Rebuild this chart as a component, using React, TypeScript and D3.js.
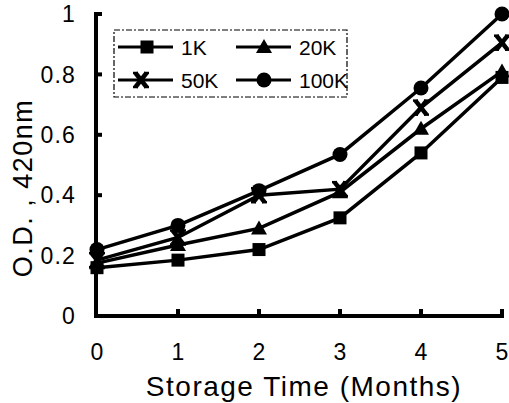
import React from "react";
import * as d3 from "d3";

const months = [0, 1, 2, 3, 4, 5];
const s1K = [0.16, 0.185, 0.22, 0.325, 0.54, 0.79];
const s20K = [0.175, 0.235, 0.29, 0.41, 0.62, 0.81];
const s50K = [0.185, 0.26, 0.4, 0.42, 0.69, 0.905];
const s100K = [0.22, 0.3, 0.415, 0.535, 0.755, 1.0];
const seriesNames = ["1K", "20K", "50K", "100K"];
const markers = ["square", "triangle", "x", "circle"];
const yTicks = [0, 0.2, 0.4, 0.6, 0.8, 1];
const yTickLabels = ["0", "0.2", "0.4", "0.6", "0.8", "1"];

const W = 509, H = 403;
const FONT = "'Liberation Sans', Arial, Helvetica, sans-serif";

function Marker({ type, x, y }: { type: string; x: number; y: number }) {
  if (type === "square") return <rect x={x - 6.5} y={y - 6.5} width={13} height={13} fill="#000" />;
  if (type === "circle") return <circle cx={x} cy={y} r={7.5} fill="#000" />;
  if (type === "triangle")
    return <path d={`M${x},${y - 8} L${x + 8},${y + 6} L${x - 8},${y + 6} Z`} fill="#000" />;
  return (
    <g stroke="#000">
      <line x1={x - 5.5} y1={y - 7} x2={x + 5.5} y2={y + 7} strokeWidth={4.5} />
      <line x1={x + 5.5} y1={y - 7} x2={x - 5.5} y2={y + 7} strokeWidth={4.5} />
      <line x1={x - 8} y1={y - 7} x2={x - 3} y2={y - 7} strokeWidth={2.5} />
      <line x1={x + 3} y1={y - 7} x2={x + 8} y2={y - 7} strokeWidth={2.5} />
      <line x1={x - 8} y1={y + 7} x2={x - 3} y2={y + 7} strokeWidth={2.5} />
      <line x1={x + 3} y1={y + 7} x2={x + 8} y2={y + 7} strokeWidth={2.5} />
    </g>
  );
}

export default function App() {
  const x = d3.scaleLinear().domain([0, 5]).range([97, 502]);
  const y = d3.scaleLinear().domain([0, 1]).range([316, 14]);
  const data = [s1K, s20K, s50K, s100K];
  const line = d3
    .line<number>()
    .x((_, i) => x(months[i]))
    .y((d) => y(d));

  const legend = [
    { lx: 118, ly: 47, name: seriesNames[0], m: markers[0], mx: 147 },
    { lx: 236, ly: 47, name: seriesNames[1], m: markers[1], mx: 264 },
    { lx: 118, ly: 80, name: seriesNames[2], m: markers[2], mx: 141 },
    { lx: 236, ly: 80, name: seriesNames[3], m: markers[3], mx: 264 },
  ];

  return (
    <svg width={W} height={H} style={{ position: "absolute", left: 0, top: 0, background: "#fff" }}>
      {/* axes */}
      <line x1={96} y1={12} x2={96} y2={318} stroke="#000" strokeWidth={4} />
      <line x1={94} y1={316} x2={504} y2={316} stroke="#000" strokeWidth={4} />
      {yTicks.map((t, i) => (
        <g key={"yt" + i}>
          <line x1={96} x2={102} y1={y(t)} y2={y(t)} stroke="#000" strokeWidth={4} />
          <text x={76} y={y(t)} dy="0.36em" textAnchor="end" fontFamily={FONT} fontSize={23} letterSpacing={1.2}>
            {yTickLabels[i]}
          </text>
        </g>
      ))}
      {months.map((m) => (
        <g key={"xt" + m}>
          {m > 0 && <line x1={x(m)} x2={x(m)} y1={316} y2={309} stroke="#000" strokeWidth={4} />}
          <text x={x(m)} y={352} dy="0.36em" textAnchor="middle" fontFamily={FONT} fontSize={23}>
            {m}
          </text>
        </g>
      ))}
      <text
        x={304}
        y={386}
        dy="0.36em"
        textAnchor="middle"
        fontFamily={FONT}
        fontSize={28}
        letterSpacing={1.5}
      >
        Storage Time (Months)
      </text>
      <text
        transform="translate(22,188) rotate(-90)"
        dy="0.36em"
        textAnchor="middle"
        fontFamily={FONT}
        fontSize={27}
        letterSpacing={1.5}
      >
        O.D. , 420nm
      </text>

      {/* series */}
      {data.map((s, k) => (
        <g key={"s" + k}>
          <path d={line(s) || ""} fill="none" stroke="#000" strokeWidth={3.5} />
          {s.map((v, i) => (
            <Marker key={i} type={markers[k]} x={x(months[i])} y={y(v)} />
          ))}
        </g>
      ))}

      {/* legend */}
      <rect x={114} y={30} width={233} height={67} fill="#fff" stroke="#000" strokeWidth={1.2} strokeDasharray="6,2,2,2" />
      {legend.map((l, i) => (
        <g key={"lg" + i}>
          <line x1={l.lx} x2={l.lx + 55} y1={l.ly} y2={l.ly} stroke="#000" strokeWidth={3} />
          <Marker type={l.m} x={l.mx} y={l.ly} />
          <text x={l.lx + 63} y={l.ly} dy="0.36em" fontFamily={FONT} fontSize={21}>
            {l.name}
          </text>
        </g>
      ))}
    </svg>
  );
}
